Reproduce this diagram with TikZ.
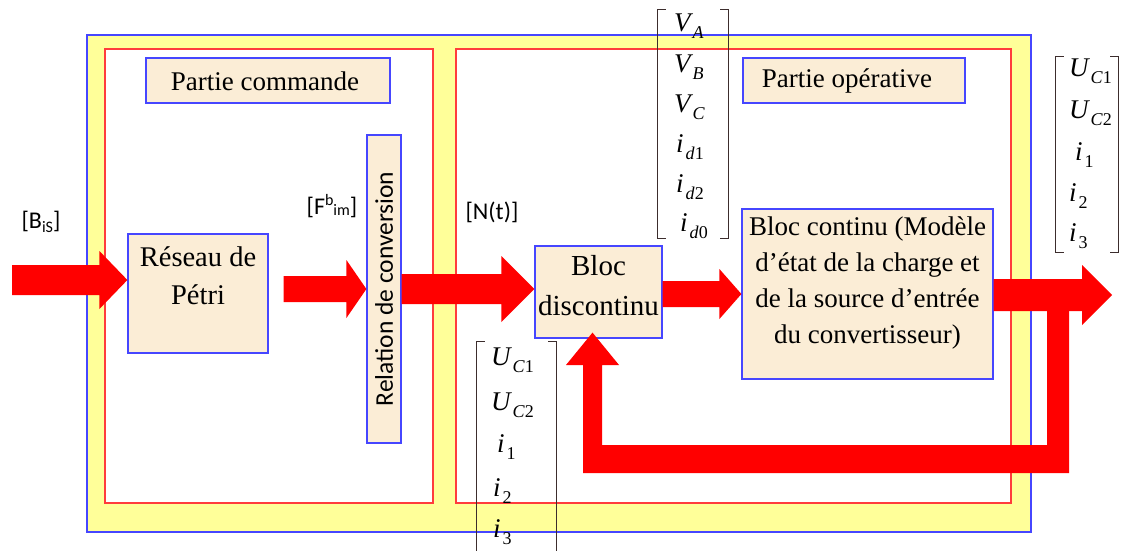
\documentclass[tikz,border=0pt]{standalone}
\usepackage{fontspec}
\setmainfont{Liberation Serif}
\newfontfamily\labfont{Carlito}
\usetikzlibrary{calc}

\definecolor{frameblue}{RGB}{70,70,255}
\definecolor{framered}{RGB}{255,60,60}
\definecolor{bandyellow}{RGB}{255,255,153}
\definecolor{boxfill}{RGB}{251,237,214}
\definecolor{flowred}{RGB}{255,0,0}
\definecolor{brk}{RGB}{60,45,45}

\tikzset{
  outerframe/.style={draw=frameblue, fill=bandyellow, line width=1.2pt, inner sep=0pt},
  zone/.style={draw=framered, fill=white, line width=1.2pt, inner sep=0pt},
  blk/.style={draw=frameblue, fill=boxfill, line width=1.2pt, inner sep=0pt},
  txt/.style={inner sep=0pt, align=center, font=\fontsize{27}{36}\selectfont},
  lab/.style={inner sep=0pt, font=\labfont\fontsize{24}{26}\selectfont},
  vecbox/.style={inner sep=0pt},
  brkline/.style={draw=brk, line width=1.1pt},
  ent/.style={anchor=base west, inner sep=0pt, font=\fontsize{27}{27}\selectfont\itshape},
  flow/.style={fill=flowred},
}

% quantity with a lowered index
\newcommand\qty[2]{#1\kern2pt\raisebox{-7pt}{\fontsize{18}{18}\selectfont #2}}

% broad horizontal arrow: start point, tip point, shaft half-width, head half-width, head length
\newcommand\fatarrow[5]{%
  \fill[flow] let \p1=(#1), \p2=(#2) in
    (\x1,\y2+#3) -- (\x2-#5,\y2+#3) -- (\x2-#5,\y2+#4) -- (\x2,\y2)
    -- (\x2-#5,\y2-#4) -- (\x2-#5,\y2-#3) -- (\x1,\y2-#3) -- cycle;}

% bracket pair around a vector node
\newcommand\brackets[1]{%
  \draw[brkline] ([xshift=8pt]#1.north west) -- (#1.north west) -- (#1.south west) -- ([xshift=8pt]#1.south west);
  \draw[brkline] ([xshift=-8pt]#1.north east) -- (#1.north east) -- (#1.south east) -- ([xshift=-8pt]#1.south east);}

\begin{document}
\begin{tikzpicture}[x=1pt,y=-1pt]
\useasboundingbox (0,0) rectangle (1121,551);

% frames
\node[outerframe, minimum width=944pt, minimum height=497pt] (frame) at (559,283.5) {};
\node[zone, minimum width=328pt, minimum height=454pt] (cmdzone) at (269,276) {};
\node[zone, minimum width=555pt, minimum height=454pt] (opzone) at (733.5,276) {};

% titles
\node[blk, minimum width=244pt, minimum height=45pt] (cmd) at (268,80.5) {};
\node[txt] (cmdtxt) at (265,81) {Partie commande};
\node[blk, minimum width=222pt, minimum height=45pt] (ope) at (854,80.5) {};
\node[txt] (opetxt) at (847,81) {Partie opérative};

% blocks
\node[blk, minimum width=140pt, minimum height=119pt] (reseau) at (198,293.5) {};
\node[txt, font=\fontsize{28.5}{38}\selectfont] (reseautxt) at (198,276) {Réseau de\\Pétri};

\node[blk, minimum width=34pt, minimum height=308pt] (relation) at (384,289) {};
\node[lab, rotate=90, font=\labfont\fontsize{25.5}{26}\selectfont] (relationtxt) at (relation.center) {Relation de conversion};

\node[blk, minimum width=127pt, minimum height=92pt] (discontinu) at (598.5,292) {};
\node[txt, font=\fontsize{29}{40}\selectfont] (discontinutxt) at (598.5,286) {Bloc\\discontinu};

\node[blk, minimum width=251pt, minimum height=170pt] (continu) at (867.5,294) {};
\node[txt] (continutxt) at (867.5,283) {Bloc continu (Modèle\\d’état de la charge et\\de la source d’entrée\\du convertisseur)};

% signal labels
\node[lab] (bis) at (41,222) {[B\raisebox{-4pt}{\fontsize{16}{16}\selectfont iS}]};
\node[lab] (fbim) at (332,206) {[F\raisebox{9pt}{\fontsize{16}{16}\selectfont b}\raisebox{-1pt}{\fontsize{16}{16}\selectfont im}]};
\node[lab] (nt) at (492,212) {[N(t)]};

% flow arrows
\coordinate (in) at (12,280);
\coordinate (out) at (1112,295);
\fatarrow{in}{reseau.west |- in}{15pt}{29pt}{28pt}
\fatarrow{[xshift=15pt]reseau.east}{relation.west}{13pt}{29pt}{20pt}
\fatarrow{relation.east}{[yshift=3pt]discontinu.west}{15pt}{33pt}{33pt}
\fatarrow{discontinu.east}{continu.west}{13pt}{25pt}{22pt}
\fatarrow{continu.east}{out}{16pt}{30pt}{30pt}

% feedback loop back to the switching block
\coordinate (fbR) at (1069,300);
\coordinate (fbL) at (583,473);
\coordinate (fbH) at (592.5,365);
\fill[flow] (fbR) -- (fbR |- fbL) -- (fbL) -- (fbL |- fbH)
  -- ([xshift=-26.5pt]fbH) -- ([yshift=6pt,xshift=-6pt]discontinu.south) -- ([xshift=26.5pt]fbH)
  -- ([xshift=19pt]fbL |- fbH) -- ([xshift=19pt,yshift=28pt]fbL) -- ([xshift=-22pt,yshift=28pt]fbR |- fbL)
  -- ([xshift=-22pt]fbR) -- cycle;

% input voltages and diode currents
\node[vecbox, minimum width=70pt, minimum height=228pt] (vin) at (693,124) {};
\brackets{vin}
\node[ent] (va) at (674,32) {\qty{V}{A}};
\node[ent] (vb) at (674,72) {\qty{V}{B}};
\node[ent] (vc) at (674,112) {\qty{V}{C}};
\node[ent] (id1) at (676,152) {\qty{i}{d\textup{1}}};
\node[ent] (id2) at (676,192) {\qty{i}{d\textup{2}}};
\node[ent] (id0) at (680,231) {\qty{i}{d\textup{0}}};

% state vector fed back
\node[vecbox, minimum width=79pt, minimum height=216pt] (xfb) at (516.5,450) {};
\brackets{xfb}
\node[ent] (ucfb1) at (491,365) {\qty{U}{C\textup{1}}};
\node[ent] (ucfb2) at (491,410) {\qty{U}{C\textup{2}}};
\node[ent] (ifb1) at (497,452) {\qty{i}{\textup{1}}};
\node[ent] (ifb2) at (493,496) {\qty{i}{\textup{2}}};
\node[ent] (ifb3) at (493,537) {\qty{i}{\textup{3}}};

% output state vector
\node[vecbox, minimum width=62pt, minimum height=195pt] (xout) at (1087,154.5) {};
\brackets{xout}
\node[ent] (ucout1) at (1069,77) {\qty{U}{C\textup{1}}};
\node[ent] (ucout2) at (1069,118) {\qty{U}{C\textup{2}}};
\node[ent] (iout1) at (1075,160) {\qty{i}{\textup{1}}};
\node[ent] (iout2) at (1069,201) {\qty{i}{\textup{2}}};
\node[ent] (iout3) at (1069,241) {\qty{i}{\textup{3}}};
\end{tikzpicture}
\end{document}
